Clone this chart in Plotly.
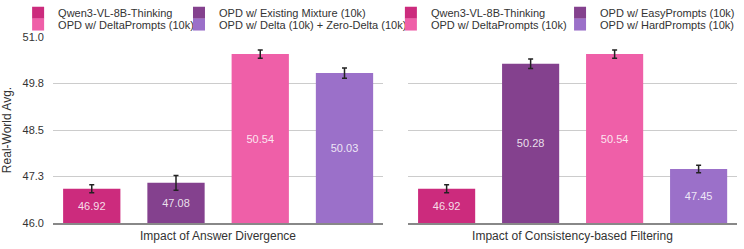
import plotly.graph_objects as go

# ---- data ----
left_methods = ["Qwen3-VL-8B-Thinking", "OPD w/ Existing Mixture (10k)",
                "OPD w/ DeltaPrompts (10k)", "OPD w/ Delta (10k) + Zero-Delta (10k)"]
left_values = [46.92, 47.08, 50.54, 50.03]
left_errors = [0.11, 0.20, 0.11, 0.14]

right_methods = ["Qwen3-VL-8B-Thinking", "OPD w/ EasyPrompts (10k)",
                 "OPD w/ DeltaPrompts (10k)", "OPD w/ HardPrompts (10k)"]
right_values = [46.92, 50.28, 50.54, 47.45]
right_errors = [0.11, 0.13, 0.11, 0.10]

colors = ["#CC2B7D", "#84418E", "#EF5FA8", "#9B70C9"]
panel_titles = ["Impact of Answer Divergence", "Impact of Consistency-based Filtering"]
y_min, y_max = 46.0, 51.0
y_ticks = [46.0, 47.25, 48.5, 49.75, 51.0]
y_ticklabels = ["46.0", "47.3", "48.5", "49.8", "51.0"]

FONT = "Liberation Sans, Arial, Helvetica, sans-serif"

fig = go.Figure()

# legend positions (paper x) per panel: column1, column2 ; rows by index
leg_x = [[-0.051, 0.1842], [0.494, 0.7413]]
leg_y = [1.131, 1.067]

legend_layouts = {}
leg_idx = 1
panels = [(left_methods, left_values, left_errors, "x", "y"),
          (right_methods, right_values, right_errors, "x2", "y2")]
for p, (methods, values, errors, xa, ya) in enumerate(panels):
    for i, (m, v, e) in enumerate(zip(methods, values, errors)):
        col = i % 2
        row = i // 2
        lname = "legend" if leg_idx == 1 else f"legend{leg_idx}"
        legend_layouts[lname] = dict(
            x=leg_x[p][col], y=leg_y[row], xanchor="left", yanchor="middle",
            bgcolor="rgba(0,0,0,0)", borderwidth=0,
            font=dict(family=FONT, size=11, color="#333333"),
            orientation="v",
        )
        # bars rise from the axis minimum so the value label sits mid-bar
        fig.add_trace(go.Bar(
            x=[m], y=[v - y_min], base=[y_min], name=m, xaxis=xa, yaxis=ya,
            marker=dict(color=colors[i], line=dict(width=0)),
            width=0.68,
            error_y=dict(type="data", array=[e], visible=True,
                         color="#222222", thickness=1.5, width=2.5),
            text=[f"{v:.2f}"], textposition="inside", insidetextanchor="middle",
            textangle=0,
            textfont=dict(family=FONT, size=11, color="rgba(255,255,255,0.85)"),
            legend=lname, showlegend=True,
            hoverinfo="skip",
        ))
        leg_idx += 1

W, H = 744, 249
ml, mr, mt, mb = 53, 7, 36.5, 25.7
pw = W - ml - mr

def xdom(a, b):
    return [(a - ml) / pw, (b - ml) / pw]

yaxis_common = dict(range=[y_min, y_max], tickvals=y_ticks, showgrid=True,
                    gridcolor="#CCCCCC", gridwidth=1, zeroline=False,
                    ticks="", fixedrange=True)
xaxis_base = dict(range=[-0.46, 3.457], showticklabels=False, ticks="",
                  showgrid=False, zeroline=False, showline=True,
                  linecolor="#888888", linewidth=2)
xtitle_font = dict(family=FONT, size=12, color="#333333")

fig.update_layout(
    width=W, height=H,
    margin=dict(l=ml, r=mr, t=mt, b=mb, pad=0, autoexpand=False),
    paper_bgcolor="white", plot_bgcolor="white",
    barmode="overlay",
    font=dict(family=FONT, size=11, color="#333333"),
    xaxis=dict(domain=xdom(53, 383), **xaxis_base,
               title=dict(text=panel_titles[0], font=xtitle_font, standoff=8)),
    xaxis2=dict(domain=xdom(408, 737), anchor="y2", **xaxis_base,
                title=dict(text=panel_titles[1], font=xtitle_font, standoff=8)),
    yaxis=dict(**yaxis_common, ticktext=y_ticklabels, showticklabels=True,
               tickfont=dict(family=FONT, size=11, color="#333333"),
               ticklabelstandoff=8,
               title=dict(text="Real-World Avg.", standoff=8,
                          font=dict(family=FONT, size=12, color="#333333"))),
    yaxis2=dict(**yaxis_common, anchor="x2", showticklabels=False),
    **legend_layouts,
)

fig.write_html("out.html")
